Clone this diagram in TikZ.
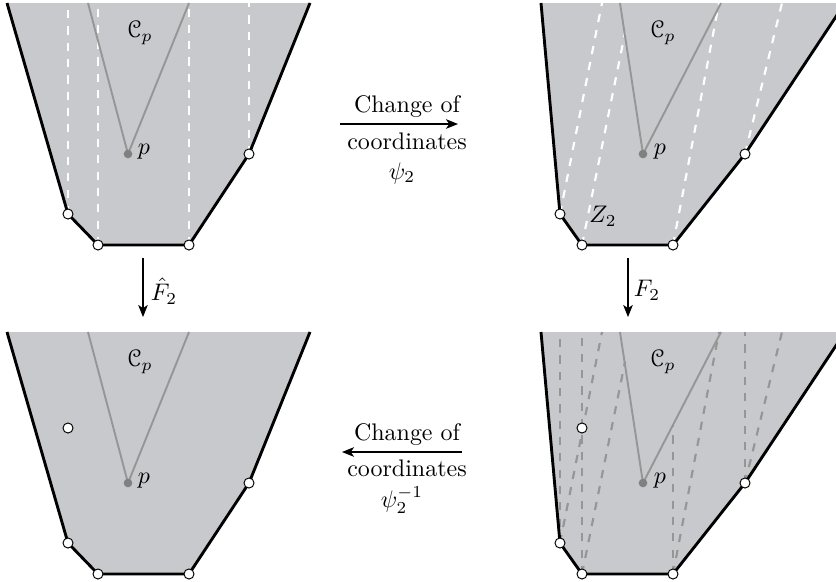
\documentclass[tikz,border=0pt]{standalone}
\usepackage{amsmath,amssymb}
\usepackage[mathcal]{eucal}
\usetikzlibrary{arrows.meta}
\definecolor{regiongray}{RGB}{200,201,204}
\definecolor{conegray}{RGB}{150,150,150}

\tikzset{
  bnd/.style={line width=1.2pt, black, line join=round},
  wdash/.style={white, line width=0.9pt, dash pattern=on 3.4pt off 3.4pt},
  gdash/.style={conegray, line width=0.9pt, dash pattern=on 3.4pt off 3.4pt},
  cone/.style={conegray, line width=0.8pt},
  vtx/.style={circle, draw=black, fill=white, line width=0.4pt, inner sep=0pt, minimum size=4.2pt},
  pdot/.style={circle, fill=conegray!85!black, inner sep=0pt, minimum size=3.6pt},
  maparrow/.style={line width=0.5pt, -{Stealth[length=5pt,width=4pt,inset=1.3pt]}},
}

\begin{document}
\begin{tikzpicture}[x=0.417pt,y=-0.417pt]
\clip (0,0) rectangle (836,581);

% Left column: region before and after \hat F_2
\foreach \dy/\nm in {0/a,329/c} {
  \begin{scope}[shift={(0,\dy)}]
    \fill[regiongray] (7,3) -- (68,214) -- (98,245) -- (189,245) -- (249,154) -- (310,3) -- cycle;
    \ifnum\dy=0
      \foreach \x/\y in {68/214,98/245,189/245,249/154}
        \draw[wdash] (\x,\y) -- (\x,3);
    \fi
    \draw[cone] (88,3) -- (128,154) -- (189,3);
    \draw[bnd] (7,3) -- (68,214) -- (98,245) -- (189,245) -- (249,154) -- (310,3);
    \node[pdot] (p\nm) at (128,154) {};
    \node (pl\nm) at (144,152) {$p$};
    \node (cp\nm) at (140,33) {$\mathcal{C}_p$};
    \foreach \x/\y [count=\k] in {68/214,98/245,189/245,249/154}
      \node[vtx] (v\nm\k) at (\x,\y) {};
  \end{scope}
}
\node[vtx] (qc) at (68,428) {};

% Right column: region in new coordinates, before and after F_2
\foreach \dy/\nm in {0/b,329/d} {
  \begin{scope}[shift={(0,\dy)}]
    \fill[regiongray] (541,3) -- (560,214) -- (582,245) -- (673,245) -- (745,154) -- (845,3) -- cycle;
    \ifnum\dy=0
      \draw[wdash] (560,214) -- (602,3);
      \draw[wdash] (582,245) -- (625,33);
      \draw[wdash] (673,245) -- (719,3);
      \draw[wdash] (745,154) -- (782,3);
    \else
      \draw[gdash] (560,214) -- (602,3);
      \draw[gdash] (582,245) -- (625,33);
      \draw[gdash] (673,245) -- (719,3);
      \draw[gdash] (745,154) -- (782,3);
      \draw[gdash] (560,214) -- (560,3);
      \draw[gdash] (582,245) -- (582,3);
      \draw[gdash] (673,245) -- (673,95);
      \draw[gdash] (745,154) -- (745,3);
    \fi
    \draw[cone] (620,3) -- (643,154) -- (721,3);
    \draw[bnd] (541,3) -- (560,214) -- (582,245) -- (673,245) -- (745,154) -- (845,3);
    \node[pdot] (p\nm) at (643,154) {};
    \node (pl\nm) at (660,152) {$p$};
    \node (cp\nm) at (663,33) {$\mathcal{C}_p$};
    \foreach \x/\y [count=\k] in {560/214,582/245,673/245,745/154}
      \node[vtx] (v\nm\k) at (\x,\y) {};
  \end{scope}
}
\node[vtx] (qd) at (582,428) {};
\node (zlab) at (603,216) {$Z_2$};

% Maps
\coordinate (top-s) at (340,124);
\coordinate (top-e) at (458,124);
\draw[maparrow] (top-s) -- (top-e);
\node (chg1) at (407,107) {Change of};
\node (crd1) at (407,141) {coordinates};
\node (psi1) at (402,173) {$\psi_2$};

\coordinate (bot-s) at (462,452);
\coordinate (bot-e) at (342,452);
\draw[maparrow] (bot-s) -- (bot-e);
\node (chg2) at (407,435) {Change of};
\node (crd2) at (407,468) {coordinates};
\node (psi2) at (402,500) {$\psi_2^{-1}$};

\coordinate (lf-s) at (143,258);
\coordinate (lf-e) at (143,317);
\draw[maparrow] (lf-s) -- (lf-e);
\node[anchor=west, inner sep=1pt] (fhat) at (148,291) {$\hat{F}_2$};

\coordinate (rt-s) at (628,258);
\coordinate (rt-e) at (628,317);
\draw[maparrow] (rt-s) -- (rt-e);
\node[anchor=west, inner sep=1pt] (fmap) at (631,290) {$F_2$};

\end{tikzpicture}
\end{document}
